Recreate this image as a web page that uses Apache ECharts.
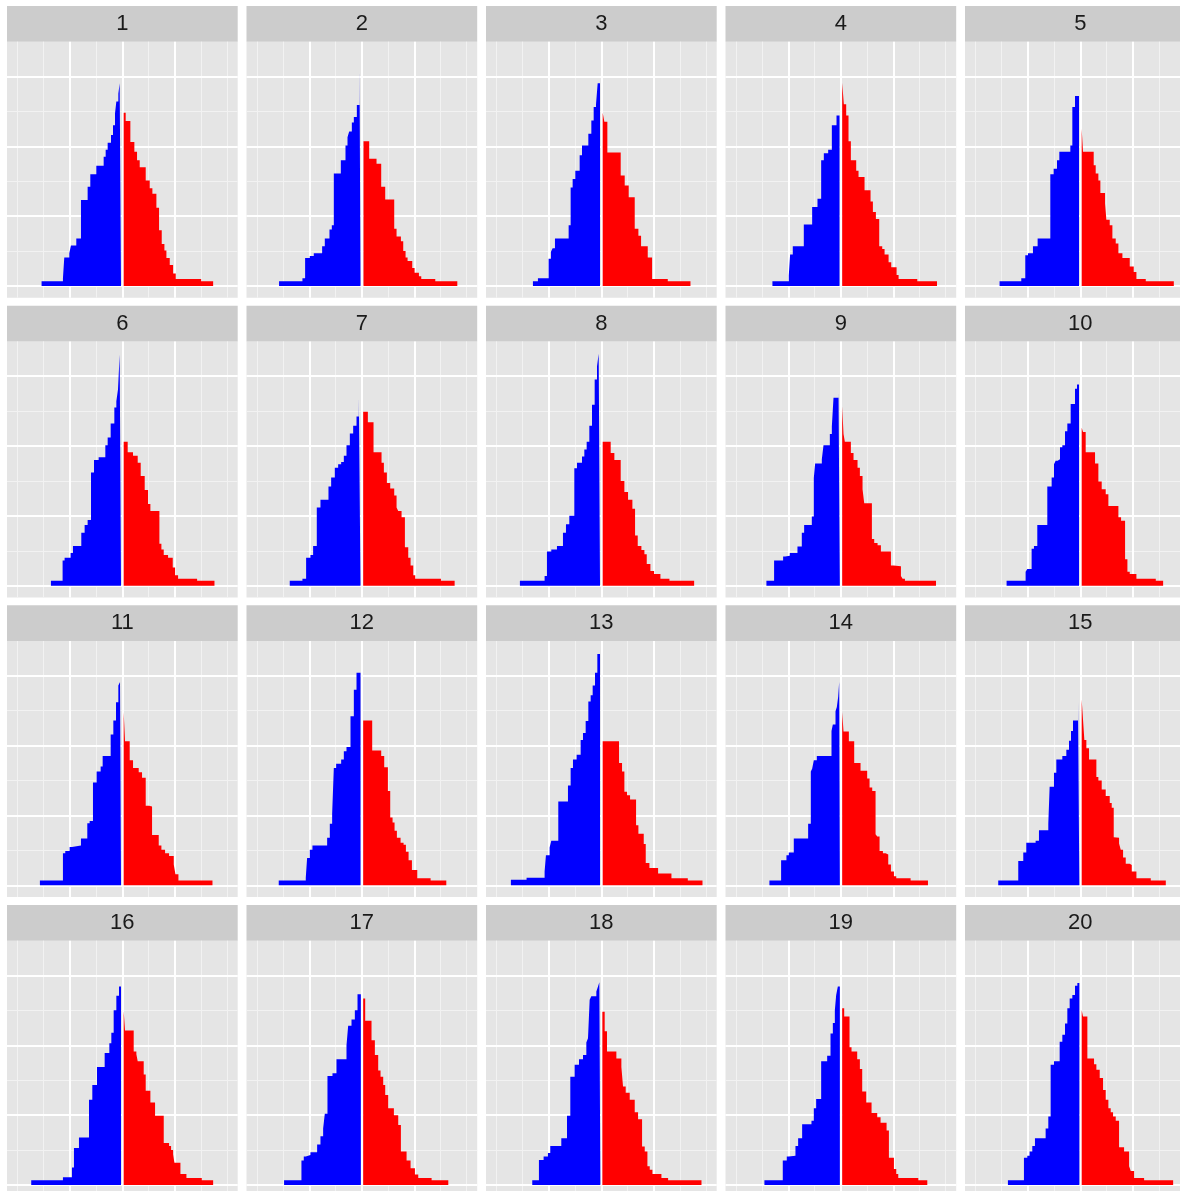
<!DOCTYPE html>
<html>
<head>
<meta charset="utf-8">
<script src="https://cdn.jsdelivr.net/npm/echarts@6/dist/echarts.min.js"></script>
<style>
html,body{margin:0;padding:0;background:#fff;overflow:hidden;width:1180px;height:1191px;}
#chart{width:1200px;height:1200px;}
</style>
</head>
<body>
<div id="chart"></div>
<script>
// Facet labels
const panelLabels = ['1','2','3','4','5','6','7','8','9','10','11','12','13','14','15','16','17','18','19','20'];

// Blue (left of 0) step areas: [x left edge (radians), height]; last point = right end
const blueSteps = [
 [[-2.42,0.07],[-1.78,0.11],[-1.74,0.41],[-1.59,0.47],[-1.54,0.58],[-1.38,0.68],[-1.24,1.23],[-1.04,1.42],[-0.96,1.60],[-0.78,1.72],[-0.56,1.85],[-0.50,1.95],[-0.44,2.05],[-0.34,2.16],[-0.28,2.30],[-0.22,2.47],[-0.18,2.64],[-0.12,2.75],[-0.08,2.90],[-0.04,2.90]],
 [[-2.48,0.07],[-1.78,0.11],[-1.70,0.40],[-1.56,0.43],[-1.44,0.47],[-1.19,0.57],[-1.11,0.68],[-0.97,0.81],[-0.90,0.87],[-0.84,1.61],[-0.63,1.80],[-0.49,2.01],[-0.43,2.13],[-0.38,2.21],[-0.30,2.34],[-0.24,2.42],[-0.15,2.59],[-0.07,3.14],[-0.04,3.14]],
 [[-2.05,0.07],[-1.90,0.11],[-1.58,0.39],[-1.51,0.49],[-1.46,0.54],[-1.39,0.68],[-0.98,0.87],[-0.92,1.41],[-0.86,1.53],[-0.78,1.65],[-0.65,1.87],[-0.58,2.01],[-0.39,2.18],[-0.30,2.37],[-0.23,2.56],[-0.16,2.60],[-0.11,2.90],[-0.04,2.90]],
 [[-2.05,0.07],[-1.56,0.15],[-1.52,0.45],[-1.44,0.57],[-1.11,0.88],[-0.86,1.13],[-0.70,1.25],[-0.59,1.80],[-0.51,1.90],[-0.38,1.95],[-0.27,2.30],[-0.13,2.44],[-0.04,2.44]],
 [[-2.42,0.07],[-1.77,0.11],[-1.65,0.44],[-1.57,0.47],[-1.42,0.57],[-1.28,0.68],[-0.90,1.60],[-0.80,1.68],[-0.70,1.80],[-0.63,1.92],[-0.30,2.01],[-0.24,2.56],[-0.16,2.72],[-0.04,2.72]],
 [[-2.14,0.07],[-1.79,0.36],[-1.73,0.40],[-1.55,0.47],[-1.48,0.57],[-1.23,0.76],[-1.13,0.87],[-1.04,0.94],[-0.94,1.62],[-0.85,1.80],[-0.71,1.84],[-0.51,2.01],[-0.44,2.12],[-0.35,2.32],[-0.24,2.55],[-0.18,2.64],[-0.13,2.81],[-0.08,3.31],[-0.04,3.31]],
 [[-2.16,0.07],[-1.78,0.10],[-1.67,0.40],[-1.54,0.44],[-1.46,0.57],[-1.35,1.12],[-1.24,1.23],[-1.00,1.42],[-0.92,1.55],[-0.81,1.69],[-0.71,1.74],[-0.62,1.77],[-0.54,1.86],[-0.46,2.01],[-0.36,2.18],[-0.26,2.29],[-0.16,2.42],[-0.09,2.71],[-0.04,2.71]],
 [[-2.44,0.07],[-1.70,0.14],[-1.63,0.49],[-1.50,0.52],[-1.33,0.57],[-1.15,0.76],[-1.06,0.88],[-0.96,1.00],[-0.81,1.68],[-0.73,1.76],[-0.58,1.85],[-0.51,1.95],[-0.44,2.06],[-0.36,2.29],[-0.28,2.59],[-0.20,2.95],[-0.13,3.14],[-0.08,3.32],[-0.04,3.32]],
 [[-2.23,0.07],[-2.00,0.36],[-1.73,0.42],[-1.67,0.43],[-1.53,0.47],[-1.30,0.56],[-1.17,0.76],[-1.10,0.87],[-0.87,0.99],[-0.81,1.54],[-0.77,1.75],[-0.57,1.81],[-0.52,2.01],[-0.33,2.17],[-0.27,2.28],[-0.22,2.69],[-0.07,2.81],[-0.03,2.81]],
 [[-2.21,0.07],[-1.64,0.20],[-1.59,0.24],[-1.46,0.53],[-1.39,0.57],[-1.29,0.87],[-0.99,1.42],[-0.86,1.55],[-0.79,1.74],[-0.74,1.79],[-0.68,1.81],[-0.61,1.98],[-0.54,2.01],[-0.46,2.21],[-0.39,2.32],[-0.29,2.60],[-0.16,2.82],[-0.10,2.88],[-0.04,2.88]],
 [[-2.47,0.07],[-1.78,0.46],[-1.71,0.49],[-1.58,0.55],[-1.51,0.57],[-1.24,0.67],[-1.05,0.89],[-0.98,0.92],[-0.88,1.47],[-0.77,1.63],[-0.65,1.70],[-0.59,1.85],[-0.35,2.16],[-0.27,2.36],[-0.19,2.62],[-0.12,2.86],[-0.07,2.91],[-0.04,2.91]],
 [[-2.49,0.07],[-1.68,0.11],[-1.64,0.39],[-1.56,0.51],[-1.48,0.57],[-1.04,0.68],[-0.96,0.88],[-0.89,1.02],[-0.84,1.68],[-0.77,1.74],[-0.62,1.80],[-0.54,1.92],[-0.46,1.98],[-0.34,2.42],[-0.24,2.80],[-0.16,3.04],[-0.04,3.04]],
 [[-2.71,0.08],[-2.24,0.11],[-1.70,0.20],[-1.66,0.43],[-1.55,0.54],[-1.50,0.64],[-1.29,1.20],[-1.00,1.43],[-0.92,1.68],[-0.85,1.80],[-0.74,1.87],[-0.62,2.08],[-0.55,2.18],[-0.47,2.35],[-0.39,2.63],[-0.32,2.72],[-0.26,2.86],[-0.19,3.04],[-0.12,3.31],[-0.04,3.31]],
 [[-2.14,0.07],[-1.79,0.36],[-1.63,0.43],[-1.56,0.47],[-1.41,0.67],[-0.98,0.88],[-0.90,1.63],[-0.86,1.67],[-0.81,1.79],[-0.72,1.85],[-0.28,2.21],[-0.24,2.30],[-0.16,2.49],[-0.12,2.55],[-0.08,2.70],[-0.05,2.91],[-0.03,2.91]],
 [[-2.46,0.07],[-1.86,0.35],[-1.71,0.47],[-1.62,0.61],[-1.34,0.64],[-1.24,0.79],[-0.96,0.88],[-0.92,1.41],[-0.79,1.61],[-0.72,1.80],[-0.54,1.85],[-0.42,1.94],[-0.34,2.07],[-0.28,2.21],[-0.22,2.36],[-0.07,2.63],[-0.03,2.63]],
 [[-2.73,0.07],[-1.78,0.11],[-1.51,0.25],[-1.45,0.53],[-1.30,0.68],[-1.00,1.22],[-0.90,1.43],[-0.76,1.69],[-0.53,1.89],[-0.39,2.03],[-0.33,2.18],[-0.26,2.50],[-0.18,2.71],[-0.10,2.84],[-0.04,2.84]],
 [[-2.33,0.07],[-1.81,0.35],[-1.74,0.41],[-1.68,0.43],[-1.54,0.47],[-1.34,0.58],[-1.24,0.70],[-1.16,0.81],[-1.11,1.02],[-1.03,1.56],[-0.88,1.60],[-0.76,1.80],[-0.46,2.00],[-0.41,2.28],[-0.31,2.37],[-0.21,2.50],[-0.13,2.73],[-0.03,2.73]],
 [[-2.07,0.07],[-1.87,0.36],[-1.73,0.41],[-1.60,0.46],[-1.53,0.56],[-1.20,0.67],[-1.03,0.99],[-0.93,1.55],[-0.80,1.72],[-0.67,1.80],[-0.55,1.86],[-0.45,2.04],[-0.40,2.10],[-0.35,2.65],[-0.30,2.70],[-0.15,2.77],[-0.10,2.84],[-0.06,2.90],[-0.03,2.90]],
 [[-2.29,0.07],[-1.74,0.35],[-1.62,0.41],[-1.56,0.42],[-1.36,0.56],[-1.28,0.67],[-1.16,0.87],[-0.88,0.92],[-0.81,1.10],[-0.74,1.23],[-0.59,1.77],[-0.41,1.85],[-0.31,2.17],[-0.24,2.32],[-0.18,2.50],[-0.14,2.72],[-0.09,2.84],[-0.03,2.84]],
 [[-2.17,0.07],[-1.69,0.39],[-1.59,0.42],[-1.52,0.48],[-1.44,0.56],[-1.36,0.67],[-1.04,0.81],[-0.96,0.98],[-0.89,1.72],[-0.79,1.77],[-0.62,2.05],[-0.54,2.15],[-0.46,2.31],[-0.39,2.53],[-0.32,2.67],[-0.24,2.72],[-0.16,2.85],[-0.09,2.89],[-0.03,2.89]]
];

// Red (right of 0) step areas
const redSteps = [
 [[0.04,2.48],[0.10,2.36],[0.24,2.06],[0.36,1.92],[0.44,1.80],[0.52,1.70],[0.70,1.51],[0.82,1.40],[0.90,1.32],[1.02,1.12],[1.10,0.80],[1.18,0.60],[1.26,0.51],[1.32,0.40],[1.42,0.30],[1.52,0.18],[1.60,0.10],[2.36,0.07],[2.72,0.07]],
 [[0.05,2.07],[0.22,1.82],[0.44,1.75],[0.58,1.42],[0.70,1.24],[0.97,0.82],[1.04,0.71],[1.17,0.64],[1.24,0.50],[1.31,0.41],[1.37,0.36],[1.51,0.26],[1.58,0.19],[1.71,0.14],[1.78,0.10],[2.20,0.07],[2.86,0.07]],
 [[0.04,2.48],[0.09,2.35],[0.18,1.91],[0.58,1.58],[0.70,1.44],[0.82,1.27],[1.00,0.82],[1.11,0.72],[1.19,0.57],[1.39,0.41],[1.52,0.10],[1.99,0.07],[2.67,0.07]],
 [[0.04,2.91],[0.09,2.60],[0.16,2.44],[0.23,2.07],[0.30,1.80],[0.46,1.65],[0.53,1.56],[0.71,1.37],[0.89,1.21],[0.96,1.06],[1.05,0.96],[1.15,0.57],[1.24,0.53],[1.31,0.45],[1.43,0.34],[1.51,0.27],[1.67,0.16],[1.73,0.10],[2.29,0.07],[2.88,0.07]],
 [[0.04,2.25],[0.08,1.92],[0.40,1.73],[0.46,1.61],[0.54,1.51],[0.60,1.33],[0.74,1.18],[0.78,0.95],[0.88,0.87],[0.96,0.68],[1.06,0.61],[1.14,0.47],[1.26,0.40],[1.48,0.28],[1.60,0.20],[1.68,0.10],[1.96,0.07],[2.80,0.07]],
 [[0.04,2.06],[0.16,1.91],[0.32,1.86],[0.46,1.76],[0.55,1.57],[0.67,1.37],[0.77,1.17],[0.84,1.07],[1.11,0.60],[1.17,0.52],[1.24,0.44],[1.37,0.40],[1.51,0.26],[1.58,0.15],[1.67,0.10],[2.24,0.07],[2.76,0.07]],
 [[0.04,2.49],[0.18,2.34],[0.35,1.91],[0.59,1.76],[0.66,1.62],[0.75,1.47],[0.85,1.39],[0.97,1.29],[1.04,1.12],[1.09,1.07],[1.19,0.98],[1.29,0.55],[1.39,0.40],[1.46,0.29],[1.54,0.15],[1.60,0.10],[2.37,0.07],[2.78,0.07]],
 [[0.04,2.06],[0.28,1.90],[0.39,1.80],[0.58,1.50],[0.69,1.34],[0.80,1.23],[0.93,1.10],[1.01,0.72],[1.09,0.57],[1.20,0.51],[1.29,0.45],[1.36,0.31],[1.47,0.21],[1.58,0.17],[1.77,0.10],[2.04,0.07],[2.78,0.07]],
 [[0.04,2.57],[0.08,2.17],[0.12,2.06],[0.30,1.90],[0.38,1.80],[0.50,1.69],[0.57,1.57],[0.65,1.38],[0.70,1.18],[0.93,0.67],[1.00,0.61],[1.10,0.58],[1.20,0.49],[1.50,0.29],[1.58,0.28],[1.80,0.14],[1.85,0.10],[1.92,0.07],[2.85,0.07]],
 [[0.04,2.26],[0.08,2.20],[0.16,1.91],[0.44,1.75],[0.54,1.49],[0.64,1.38],[0.76,1.31],[0.84,1.14],[1.14,0.98],[1.22,0.93],[1.34,0.38],[1.41,0.20],[1.48,0.17],[1.68,0.10],[2.26,0.07],[2.48,0.07]],
 [[0.04,2.48],[0.08,2.06],[0.22,1.79],[0.32,1.68],[0.49,1.62],[0.59,1.54],[0.70,1.14],[0.80,1.13],[0.89,0.72],[1.09,0.57],[1.17,0.51],[1.28,0.46],[1.40,0.42],[1.54,0.30],[1.59,0.16],[1.68,0.07],[2.70,0.07]],
 [[0.04,2.36],[0.31,1.93],[0.58,1.85],[0.67,1.69],[0.78,1.35],[0.85,0.97],[0.92,0.90],[0.98,0.78],[1.05,0.68],[1.16,0.61],[1.25,0.58],[1.32,0.48],[1.40,0.36],[1.50,0.22],[1.66,0.10],[2.06,0.07],[2.53,0.07]],
 [[0.04,2.06],[0.53,1.75],[0.62,1.63],[0.69,1.34],[0.77,1.29],[0.86,1.23],[1.04,0.86],[1.11,0.74],[1.27,0.59],[1.33,0.32],[1.44,0.25],[1.70,0.17],[2.10,0.10],[2.59,0.07],[3.03,0.07]],
 [[0.04,2.48],[0.08,2.20],[0.24,2.06],[0.40,1.75],[0.59,1.64],[0.79,1.53],[0.86,1.40],[0.94,1.35],[1.04,0.73],[1.09,0.70],[1.16,0.49],[1.26,0.46],[1.34,0.44],[1.42,0.30],[1.50,0.20],[1.59,0.13],[1.66,0.10],[2.09,0.07],[2.61,0.07]],
 [[0.04,2.66],[0.08,2.37],[0.12,2.08],[0.18,1.96],[0.26,1.80],[0.48,1.55],[0.54,1.50],[0.64,1.37],[0.76,1.28],[0.88,1.18],[0.94,1.11],[1.00,0.69],[1.04,0.68],[1.16,0.60],[1.21,0.51],[1.28,0.40],[1.36,0.31],[1.48,0.29],[1.54,0.20],[1.68,0.10],[2.11,0.07],[2.56,0.07]],
 [[0.04,2.49],[0.08,2.21],[0.34,1.91],[0.42,1.87],[0.46,1.77],[0.64,1.58],[0.70,1.35],[0.84,1.18],[0.98,0.99],[1.24,0.60],[1.40,0.56],[1.46,0.50],[1.52,0.44],[1.56,0.32],[1.74,0.16],[1.92,0.10],[2.38,0.07],[2.72,0.07]],
 [[0.04,2.67],[0.10,2.35],[0.29,2.07],[0.39,1.86],[0.49,1.64],[0.56,1.55],[0.64,1.43],[0.70,1.29],[0.79,1.10],[0.96,1.00],[1.09,0.86],[1.17,0.48],[1.34,0.35],[1.46,0.24],[1.59,0.15],[1.69,0.10],[2.09,0.07],[2.59,0.07]],
 [[0.03,2.48],[0.10,2.20],[0.17,1.91],[0.45,1.81],[0.60,1.69],[0.65,1.41],[0.73,1.32],[0.85,1.22],[1.00,1.04],[1.10,0.94],[1.22,0.55],[1.30,0.48],[1.38,0.27],[1.45,0.22],[1.53,0.16],[1.80,0.10],[2.00,0.07],[3.00,0.07]],
 [[0.04,2.53],[0.10,2.41],[0.26,1.97],[0.32,1.91],[0.49,1.80],[0.57,1.66],[0.64,1.34],[0.76,1.18],[0.92,1.03],[1.09,0.97],[1.19,0.89],[1.37,0.78],[1.44,0.39],[1.59,0.23],[1.66,0.16],[1.72,0.10],[2.32,0.07],[2.59,0.07]],
 [[0.04,2.50],[0.08,2.41],[0.21,1.81],[0.41,1.73],[0.48,1.65],[0.58,1.53],[0.68,1.36],[0.76,1.22],[0.84,1.10],[0.91,1.04],[0.98,0.98],[1.06,0.92],[1.16,0.54],[1.31,0.48],[1.46,0.27],[1.51,0.20],[1.61,0.10],[1.91,0.07],[2.78,0.07]]
];

// Axis breaks
const xMajor = [-Math.PI/2, 0, Math.PI/2];
const xMinor = [-Math.PI, -3*Math.PI/4, -Math.PI/4, Math.PI/4, 3*Math.PI/4, Math.PI];
const yMajor = [0, 1, 2, 3];
const yMinor = [0.5, 1.5, 2.5];
const xLimits = [-1.1*Math.PI, 1.1*Math.PI];
const yLimits = [-0.1665, 3.496];

// Layout
const colLeft = [7, 246.5, 486, 725.5, 965];
const rowTop = [6, 305.7, 605.3, 905];
const panelW = 230.7, stripH = 35.7, panelH = 256;

const chart = echarts.init(document.getElementById('chart'), null, {renderer: 'canvas', width: 1200, height: 1200});
const grids = [], xAxes = [], yAxes = [], series = [], graphics = [];

panelLabels.forEach((lab, i) => {
  const r = Math.floor(i / 5), c = i % 5;
  const left = colLeft[c], top = rowTop[r];
  grids.push({left: left, top: top + stripH, width: panelW, height: panelH,
    show: true, backgroundColor: '#E5E5E5', borderWidth: 0, containLabel: false});
  xAxes.push({gridIndex: i, type: 'value', min: xLimits[0], max: xLimits[1], show: false});
  yAxes.push({gridIndex: i, type: 'value', min: yLimits[0], max: yLimits[1], show: false});

  const minorStyle = {color: '#F2F2F2', width: 1, type: 'solid'};
  const majorStyle = {color: '#FFFFFF', width: 2, type: 'solid'};
  const lines = [];
  xMinor.forEach(v => lines.push({xAxis: v, lineStyle: minorStyle}));
  yMinor.forEach(v => lines.push({yAxis: v, lineStyle: minorStyle}));
  xMajor.forEach(v => lines.push({xAxis: v, lineStyle: majorStyle}));
  yMajor.forEach(v => lines.push({yAxis: v, lineStyle: majorStyle}));

  series.push({type: 'line', xAxisIndex: i, yAxisIndex: i, data: [[0, yLimits[0] - 1]],
    symbol: 'none', lineStyle: {opacity: 0}, silent: true, animation: false, z: 1,
    markLine: {z: 1, silent: true, symbol: ['none', 'none'], label: {show: false},
      animation: false, emphasis: {disabled: true}, data: lines}});

  series.push({type: 'line', xAxisIndex: i, yAxisIndex: i, step: 'end', data: blueSteps[i],
    symbol: 'none', showSymbol: false, lineStyle: {width: 0},
    areaStyle: {color: '#0000FF', opacity: 1, origin: 0}, silent: true, animation: false, z: 3});
  series.push({type: 'line', xAxisIndex: i, yAxisIndex: i, step: 'end', data: redSteps[i],
    symbol: 'none', showSymbol: false, lineStyle: {width: 0},
    areaStyle: {color: '#FF0000', opacity: 1, origin: 0}, silent: true, animation: false, z: 3});

  graphics.push({type: 'rect', shape: {x: left, y: top, width: panelW, height: stripH},
    style: {fill: '#CCCCCC'}, silent: true});
  graphics.push({type: 'text', x: left + panelW / 2, y: top + stripH / 2,
    style: {text: lab, textAlign: 'center', textVerticalAlign: 'middle',
      font: '22px "Liberation Sans", Arial, sans-serif', fill: '#1A1A1A'}, silent: true});
});

chart.setOption({
  backgroundColor: '#FFFFFF',
  animation: false,
  grid: grids,
  xAxis: xAxes,
  yAxis: yAxes,
  series: series,
  graphic: graphics
});
</script>
</body>
</html>
